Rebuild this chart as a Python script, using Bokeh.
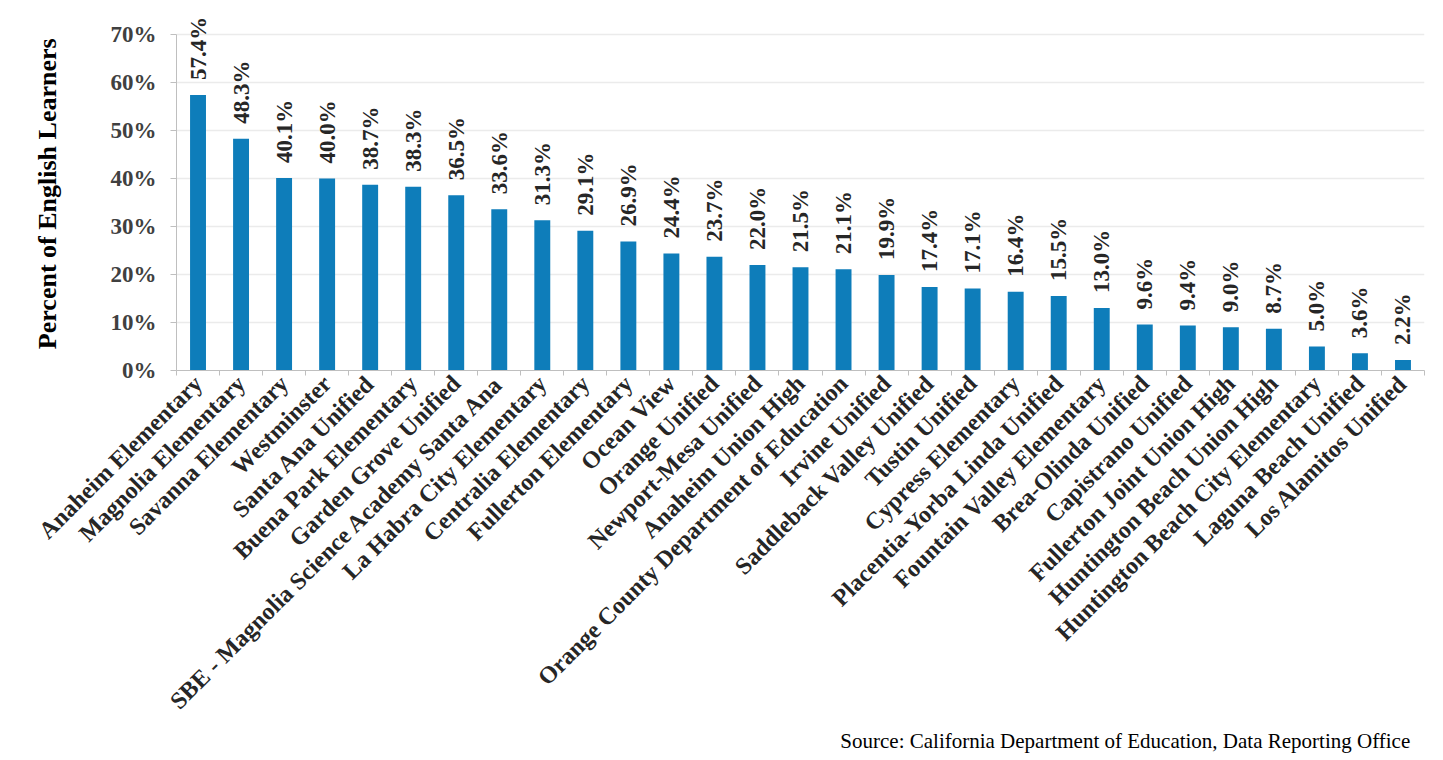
import numpy as np
from bokeh.plotting import figure
from bokeh.models import Range1d, FixedTicker, ColumnDataSource, Title
from bokeh.core.properties import value
from bokeh.embed import file_html
from bokeh.resources import INLINE

districts = [
    "Anaheim Elementary", "Magnolia Elementary", "Savanna Elementary", "Westminster",
    "Santa Ana Unified", "Buena Park Elementary", "Garden Grove Unified",
    "SBE - Magnolia Science Academy Santa Ana", "La Habra City Elementary",
    "Centralia Elementary", "Fullerton Elementary", "Ocean View", "Orange Unified",
    "Newport-Mesa Unified", "Anaheim Union High", "Orange County Department of Education",
    "Irvine Unified", "Saddleback Valley Unified", "Tustin Unified", "Cypress Elementary",
    "Placentia-Yorba Linda Unified", "Fountain Valley Elementary", "Brea-Olinda Unified",
    "Capistrano Unified", "Fullerton Joint Union High", "Huntington Beach Union High",
    "Huntington Beach City Elementary", "Laguna Beach Unified", "Los Alamitos Unified",
]
pct_el = [57.4, 48.3, 40.1, 40.0, 38.7, 38.3, 36.5, 33.6, 31.3, 29.1, 26.9, 24.4, 23.7,
          22.0, 21.5, 21.1, 19.9, 17.4, 17.1, 16.4, 15.5, 13.0, 9.6, 9.4, 9.0, 8.7, 5.0,
          3.6, 2.2]
y_ticks = [0, 10, 20, 30, 40, 50, 60, 70]
source_note = "Source: California Department of  Education, Data Reporting Office"

n = len(districts)
xs = list(range(n))
src = ColumnDataSource(dict(x=xs, y=pct_el, lab=[f"{v:.1f}%" for v in pct_el]))

SERIF = "Liberation Serif"
p = figure(width=1443, height=760, output_backend="svg", toolbar_location=None,
           x_range=Range1d(-0.5, n - 0.5), y_range=Range1d(0, 75),
           min_border_left=176, min_border_right=19, min_border_top=10, min_border_bottom=390)
p.outline_line_color = None
p.background_fill_color = "white"

p.vbar(x="x", top="y", width=0.37, source=src, color="#0E7DBA", line_color=None)
p.text(x="x", y="y", text="lab", source=src, angle=np.pi / 2, y_offset=-15,
       text_align="left", text_baseline="middle", text_font=value(SERIF),
       text_font_style="bold", text_font_size="23px", text_color="#262626")

# grid
p.xgrid.visible = False
p.ygrid.ticker = FixedTicker(ticks=y_ticks)
p.ygrid.grid_line_color = "#EBEBEB"
p.ygrid.grid_line_width = 1.5

# y axis
p.yaxis.ticker = FixedTicker(ticks=y_ticks)
p.yaxis.bounds = (0, 70)
p.yaxis.major_label_overrides = {t: f"{t}%" for t in y_ticks}
p.yaxis.axis_line_color = "#BFBFBF"
p.yaxis.major_tick_line_color = "#BFBFBF"
p.yaxis.major_tick_out = 6
p.yaxis.major_tick_in = 0
p.yaxis.minor_tick_line_color = None
p.yaxis.major_label_standoff = 14
p.yaxis.major_label_text_font = SERIF
p.yaxis.major_label_text_font_style = "bold"
p.yaxis.major_label_text_font_size = "23px"
p.yaxis.major_label_text_color = "#404040"
p.yaxis.axis_label = "Percent of  English Learners"
p.yaxis.axis_label_text_font = SERIF
p.yaxis.axis_label_text_font_style = "bold"
p.yaxis.axis_label_text_font_size = "26px"
p.yaxis.axis_label_text_color = "#000000"
p.yaxis.axis_label_standoff = 46

# x axis
p.xaxis.ticker = FixedTicker(ticks=xs, minor_ticks=[i - 0.5 for i in range(n + 1)])
p.xaxis.major_label_overrides = {i: d for i, d in enumerate(districts)}
p.xaxis.major_label_orientation = np.pi / 4
p.xaxis.axis_line_color = "#BFBFBF"
p.xaxis.major_tick_line_color = None
p.xaxis.minor_tick_line_color = "#BFBFBF"
p.xaxis.minor_tick_out = 5
p.xaxis.minor_tick_in = 0
p.xaxis.major_label_standoff = 3
p.xaxis.major_label_text_font = SERIF
p.xaxis.major_label_text_font_style = "bold"
p.xaxis.major_label_text_font_size = "24px"
p.xaxis.major_label_text_color = "#262626"

p.add_layout(Title(text=source_note, align="right", text_font=SERIF,
                   text_font_style="normal", text_font_size="21px",
                   text_color="#000000", offset=9, standoff=0), "below")

open("out.html", "w").write(file_html(p, INLINE))
